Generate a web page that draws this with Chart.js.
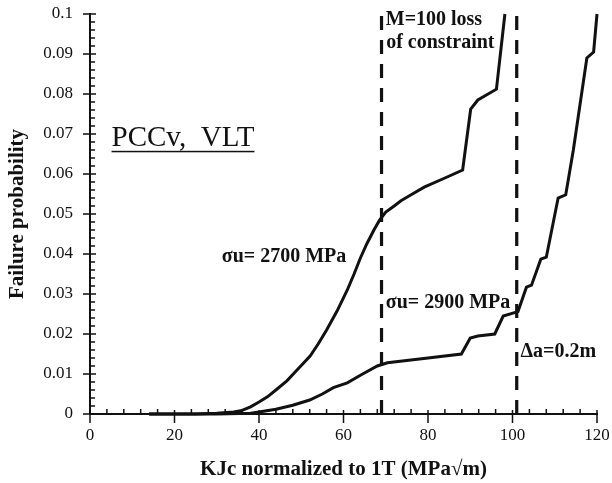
<!DOCTYPE html>
<html lang="en">
<head>
  <meta charset="UTF-8" />
  <title>Failure probability vs KJc</title>
  <script src="https://cdn.jsdelivr.net/npm/chart.js"></script>
  <style>
    html, body { margin: 0; padding: 0; background: #ffffff; }
    #wrap { width: 612px; height: 483px; }
  </style>
</head>
<body>
  <div id="wrap"><canvas id="failChart" width="612" height="483"></canvas></div>

  <script>
    // sigma_u = 2700 MPa curve
    const sigma2700X = [14, 25, 30, 34, 36, 38, 40, 42, 44, 46.6, 49, 52.1, 54, 56, 58.5, 60.9, 62.5, 64, 65.5, 67.2, 68.5, 70, 72, 73.6, 76, 79.1, 84, 88.2, 90.1, 91.8, 96.2, 98.2];
    const sigma2700Y = [0, 0, 0.0002, 0.0005, 0.0009, 0.0018, 0.003, 0.0043, 0.006, 0.0083, 0.011, 0.0145, 0.0175, 0.021, 0.0258, 0.031, 0.035, 0.039, 0.0425, 0.046, 0.0484, 0.0505, 0.052, 0.0533, 0.0548, 0.0567, 0.059, 0.061, 0.0762, 0.0785, 0.0812, 0.1];

    // sigma_u = 2900 MPa curve
    const sigma2900X = [14, 30, 38, 40, 44, 48, 52, 55, 57.6, 60.9, 64, 68, 70.4, 80, 87.9, 90, 91.8, 95.8, 97.8, 101.3, 103.3, 104.5, 106.7, 108, 110.8, 112.6, 114.4, 117.6, 119.2, 120];
    const sigma2900Y = [0, 0, 0.0002, 0.0005, 0.0012, 0.0022, 0.0035, 0.005, 0.0066, 0.0078, 0.0097, 0.012, 0.0128, 0.014, 0.015, 0.019, 0.0195, 0.02, 0.0245, 0.0256, 0.0317, 0.0322, 0.0387, 0.0392, 0.054, 0.0548, 0.066, 0.089, 0.0905, 0.1];

    // vertical dashed markers: M=100 loss of constraint, crack growth 0.2 mm
    const markerX = [69, 101];

    const xTicks = [0, 20, 40, 60, 80, 100, 120];
    const yTicks = [0, 0.01, 0.02, 0.03, 0.04, 0.05, 0.06, 0.07, 0.08, 0.09, 0.1];

    const serif = "'Liberation Serif', 'Times New Roman', serif";
    const ink = '#111111';

    const toPoints = (xs, ys) => xs.map((x, i) => ({ x: x, y: ys[i] }));

    const curveStyle = {
      showLine: true,
      borderColor: ink,
      borderWidth: 3,
      pointRadius: 0,
      tension: 0,
      clip: false
    };

    const datasets = [
      Object.assign({ label: 'σu= 2700 MPa', data: toPoints(sigma2700X, sigma2700Y) }, curveStyle),
      Object.assign({ label: 'σu= 2900 MPa', data: toPoints(sigma2900X, sigma2900Y) }, curveStyle)
    ];
    markerX.forEach(mx => {
      datasets.push({
        label: 'marker ' + mx,
        data: [{ x: mx, y: yTicks[0] }, { x: mx, y: yTicks[yTicks.length - 1] }],
        showLine: true,
        borderColor: ink,
        borderWidth: 3.2,
        borderDash: [14, 10],
        pointRadius: 0,
        clip: false
      });
    });

    // text notes placed in data coordinates
    const notes = [
      { text: 'PCCv,  VLT', x: 5.1, y: 0.0688, size: 29, bold: false, underline: true },
      { text: 'σu= 2700 MPa', x: 31.2, y: 0.0393, size: 20, bold: true },
      { text: 'σu= 2900 MPa', x: 70.0, y: 0.0278, size: 20, bold: true },
      { text: 'M=100 loss', x: 70.0, y: 0.0985, size: 20, bold: true },
      { text: 'of constraint', x: 70.1, y: 0.0928, size: 20, bold: true },
      { text: 'Δa=0.2m', x: 101.9, y: 0.0156, size: 20, bold: true }
    ];

    const tickMarks = {
      id: 'tickMarks',
      afterDatasetsDraw(chart) {
        const { ctx, scales: { x, y } } = chart;
        const x0 = x.getPixelForValue(0);
        const y0 = y.getPixelForValue(0);
        ctx.save();
        ctx.strokeStyle = ink;
        ctx.lineWidth = 1.5;
        ctx.beginPath();
        for (let v = 0; v <= 120; v += 4) {
          const px = x.getPixelForValue(v);
          if (v % 20 === 0) {
            ctx.moveTo(px, y0 - 4); ctx.lineTo(px, y0 + 9);
          } else {
            ctx.moveTo(px, y0); ctx.lineTo(px, y0 - 5);
          }
        }
        for (let i = 0; i <= 50; i++) {
          const py = y.getPixelForValue(i * 0.002);
          if (i % 5 === 0) {
            ctx.moveTo(x0 - 7, py); ctx.lineTo(x0 + 6, py);
          } else {
            ctx.moveTo(x0, py); ctx.lineTo(x0 + 5, py);
          }
        }
        ctx.stroke();

        ctx.fillStyle = ink;
        ctx.textBaseline = 'middle';
        ctx.textAlign = 'left';
        notes.forEach(n => {
          ctx.font = (n.bold ? 'bold ' : '') + n.size + 'px ' + serif;
          const px = x.getPixelForValue(n.x);
          const py = y.getPixelForValue(n.y);
          ctx.fillText(n.text, px, py);
          if (n.underline) {
            const w = ctx.measureText(n.text).width;
            ctx.fillRect(px, py + 12, w, 1.5);
          }
        });
        ctx.restore();
      }
    };

    new Chart(document.getElementById('failChart'), {
      type: 'scatter',
      data: { datasets: datasets },
      options: {
        responsive: false,
        animation: false,
        layout: { padding: { left: 0, top: 14, right: 15, bottom: 0 } },
        plugins: {
          legend: { display: false },
          tooltip: { enabled: false }
        },
        scales: {
          x: {
            type: 'linear',
            min: xTicks[0],
            max: xTicks[xTicks.length - 1],
            afterFit: s => { s.height = 69; s.paddingLeft = 0; s.paddingRight = 0; },
            afterBuildTicks: s => { s.ticks = xTicks.map(v => ({ value: v })); },
            grid: { display: false, drawTicks: false },
            border: { display: true, color: ink, width: 2 },
            ticks: {
              color: ink,
              padding: 11,
              maxRotation: 0,
              font: { family: serif, size: 17 },
              callback: v => String(v)
            },
            title: {
              display: true,
              text: 'KJc normalized to 1T (MPa√m)',
              color: ink,
              font: { family: serif, size: 21, weight: 'bold' },
              padding: { top: 0, bottom: 1 }
            }
          },
          y: {
            type: 'linear',
            min: yTicks[0],
            max: yTicks[yTicks.length - 1],
            afterFit: s => { s.width = 90; s.paddingTop = 0; s.paddingBottom = 0; },
            afterBuildTicks: s => { s.ticks = yTicks.map(v => ({ value: v })); },
            grid: { display: false, drawTicks: false },
            border: { display: true, color: ink, width: 2 },
            ticks: {
              color: ink,
              padding: 17,
              font: { family: serif, size: 17 },
              callback: v => String(+v.toFixed(2))
            },
            title: {
              display: true,
              text: 'Failure probability',
              color: ink,
              font: { family: serif, size: 21, weight: 'bold' },
              padding: { top: 5, bottom: 0 }
            }
          }
        }
      },
      plugins: [tickMarks]
    });
  </script>
</body>
</html>
